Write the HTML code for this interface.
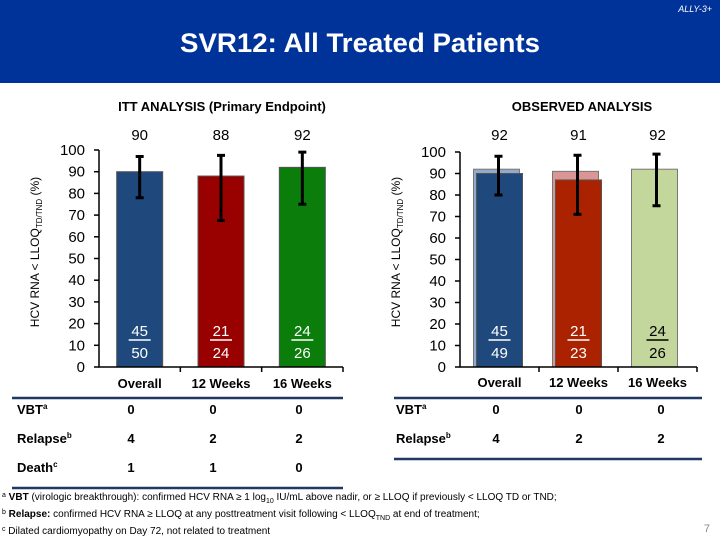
<!DOCTYPE html>
<html><head><meta charset="utf-8">
<style>
body{margin:0;width:720px;height:540px;overflow:hidden;background:#fff;font-family:"Liberation Sans",sans-serif;position:relative}
svg{position:absolute;left:0;top:0}
</style></head>
<body>
<svg id="s" width="720" height="540" xmlns="http://www.w3.org/2000/svg" font-family="Liberation Sans, sans-serif">
<rect x="0" y="0" width="720" height="83" fill="#003399"/>
<text x="712" y="12" font-size="9" font-style="italic" fill="#fff" text-anchor="end">ALLY-3+</text>
<text x="360" y="52" font-size="27" font-weight="bold" fill="#fff" text-anchor="middle" textLength="360" lengthAdjust="spacingAndGlyphs">SVR12: All Treated Patients</text>
<g id="charts"></g>
<g id="tables" font-size="13" font-weight="bold" fill="#000"></g>
<g font-size="10" fill="#000">
<text x="2" y="500"><tspan font-size="7" dy="-3">a</tspan><tspan dy="3" font-weight="bold"> VBT</tspan> (virologic breakthrough): confirmed HCV RNA ≥ 1 log<tspan font-size="7" dy="3">10</tspan><tspan dy="-3"> IU/mL above nadir, or ≥ LLOQ if previously &lt; LLOQ TD or TND;</tspan></text>
<text x="2" y="517"><tspan font-size="7" dy="-3">b</tspan><tspan dy="3" font-weight="bold"> Relapse:</tspan> confirmed HCV RNA ≥ LLOQ at any posttreatment visit following &lt; LLOQ<tspan font-size="7" dy="3">TND</tspan><tspan dy="-3"> at end of treatment;</tspan></text>
<text x="2" y="534"><tspan font-size="7" dy="-3">c</tspan><tspan dy="3"> Dilated cardiomyopathy on Day 72, not related to treatment</tspan></text>
</g>
<text x="710" y="532" font-size="11" fill="#888" text-anchor="end">7</text>
</svg>
<script>
const NS="http://www.w3.org/2000/svg";
const categories=["Overall","12 Weeks","16 Weeks"];
const ittValues=[90,88,92];
const ittLow=[78,67.5,75];
const ittHigh=[97,97.5,99];
const ittNum=[45,21,24];
const ittDen=[50,24,26];
const obsItt=[92,91,92];
const obsValues=[90,87,92];
const obsLow=[80,71,75];
const obsHigh=[98,98.5,99];
const obsNum=[45,21,24];
const obsDen=[49,23,26];
const obsLabels=[92,91,92];
const yTicks=[0,10,20,30,40,50,60,70,80,90,100];
const tableRows=["VBT","Relapse","Death"];
const tableSup=["a","b","c"];
const leftTable=[[0,0,0],[4,2,2],[1,1,0]];
const rightTable=[[0,0,0],[4,2,2]];

function el(tag,attrs,parent){const e=document.createElementNS(NS,tag);for(const k in attrs)e.setAttribute(k,attrs[k]);parent.appendChild(e);return e;}
const root=document.getElementById('charts');

function chart(cfg){
  const g=el('g',{},root);
  
  
  const y=v=>cfg.y0-(cfg.y0-cfg.y100)*v/100;
  const slot=(cfg.x1-cfg.x0)/categories.length;
  const cx=i=>cfg.x0+slot*(i+0.5);
  const t=el('text',{x:cfg.titleX,y:111,'font-size':13,'font-weight':'bold','text-anchor':'middle'},g);
  t.textContent=cfg.title;
  
  
  yTicks.forEach(v=>{
    const tx=el('text',{x:cfg.x0-14,y:y(v)+5,'font-size':15,'text-anchor':'end'},g);
    tx.textContent=v;
    
    
    const tk=el('line',{x1:cfg.x0-5,x2:cfg.x0,y1:y(v),y2:y(v),stroke:'#000','stroke-width':1.5},g);
    
    
  });
  const ya=el('text',{transform:`translate(${cfg.x0-60},252) rotate(-90)`,'font-size':12,'text-anchor':'middle'},g);
  ya.innerHTML='HCV RNA &lt; LLOQ<tspan font-size="8" dy="3">TD/TND</tspan><tspan dy="-3"> (%)</tspan>';
  
  
  categories.forEach((c,i)=>{
    const x=cx(i), w=46;
    if(cfg.back){
      const b=el('rect',{x:x-w/2-3,y:y(cfg.back[i]),width:w,height:y(0)-y(cfg.back[i]),fill:cfg.backColors[i],stroke:'#777','stroke-width':1},g);
      
      
    }
    if(!cfg.skipFront||!cfg.skipFront[i]){
      const r=el('rect',{x:x-w/2,y:y(cfg.values[i]),width:w,height:y(0)-y(cfg.values[i]),fill:cfg.colors[i],stroke:'#555','stroke-width':1},g);
      
      
    }
    const ex=cfg.back?x-1:x;
    const e=el('path',{d:`M${ex},${y(cfg.low[i])}V${y(cfg.high[i])}M${ex-4},${y(cfg.low[i])}H${ex+4}M${ex-4},${y(cfg.high[i])}H${ex+4}`,stroke:'#000','stroke-width':3,fill:'none'},g);
    
    
    const vl=el('text',{x:x,y:140,'font-size':15,'text-anchor':'middle'},g);
    vl.textContent=cfg.labels[i];
    
    
    const fc=cfg.fracColors[i];
    const n=el('text',{x:x,y:336,'font-size':15,'text-anchor':'middle',fill:fc},g);
    n.textContent=cfg.num[i];
    
    
    const ul=el('line',{x1:x-11,x2:x+11,y1:340,y2:340,stroke:fc,'stroke-width':1.5},g);
    
    
    const d=el('text',{x:x,y:358,'font-size':15,'text-anchor':'middle',fill:fc},g);
    d.textContent=cfg.den[i];
    
    
    const cl=el('text',{x:x,y:cfg.catY,'font-size':13,'font-weight':'bold','text-anchor':'middle'},g);
    cl.textContent=c;
    
    
  });
  const ax=el('path',{d:`M${cfg.x0},${cfg.y100}V${cfg.y0}H${cfg.x1}`,stroke:'#000','stroke-width':1.5,fill:'none'},g);
  
  
  for(let i=1;i<=categories.length;i++){
    const tk=el('line',{x1:cfg.x0+slot*i,x2:cfg.x0+slot*i,y1:cfg.y0,y2:cfg.y0+5,stroke:'#000','stroke-width':1.5},g);
    
    
  }
}
chart({name:'itt-chart',title:'ITT ANALYSIS (Primary Endpoint)',titleX:222,x0:99,x1:343,y0:367,y100:150,values:ittValues,low:ittLow,high:ittHigh,labels:ittValues,num:ittNum,den:ittDen,colors:['#1f497d','#990000','#0a7d0a'],fracColors:['#fff','#fff','#fff'],catY:388});
chart({name:'observed-chart',title:'OBSERVED ANALYSIS',titleX:582,x0:460,x1:697,y0:367,y100:152,values:obsValues,back:obsItt,backColors:['#95a9c9','#d99694','#c3d69b'],skipFront:[false,false,true],low:obsLow,high:obsHigh,labels:obsLabels,num:obsNum,den:obsDen,colors:['#1f497d','#aa2200','#c3d69b'],fracColors:['#fff','#fff','#000'],catY:387});

const tg=document.getElementById('tables');
function table(name,rows,x0,x1,cols,labelX){
  const g=el('g',{},tg);
  
  
  const top=el('line',{x1:x0,x2:x1,y1:398,y2:398,stroke:'#1f3864','stroke-width':2.5},g);
  
  
  rows.forEach((r,i)=>{
    const yy=418+i*29-4;
    const t=el('text',{x:labelX,y:yy},g);
    t.innerHTML=tableRows[i]+'<tspan font-size="8" dy="-5">'+tableSup[i]+'</tspan>';
    
    
    r.forEach((v,j)=>{
      const c=el('text',{x:cols[j],y:yy,'text-anchor':'middle'},g);
      c.textContent=v;
      
      
    });
  });
  const by=398+rows.length*29+3;
  const bot=el('line',{x1:x0,x2:x1,y1:by,y2:by,stroke:'#1f3864','stroke-width':2.5},g);
  
  
}
table('itt-outcomes-table',leftTable,12,343,[131,213,299],17);
table('observed-outcomes-table',rightTable,394,702,[496,579,661],396);
</script>
</body></html>
